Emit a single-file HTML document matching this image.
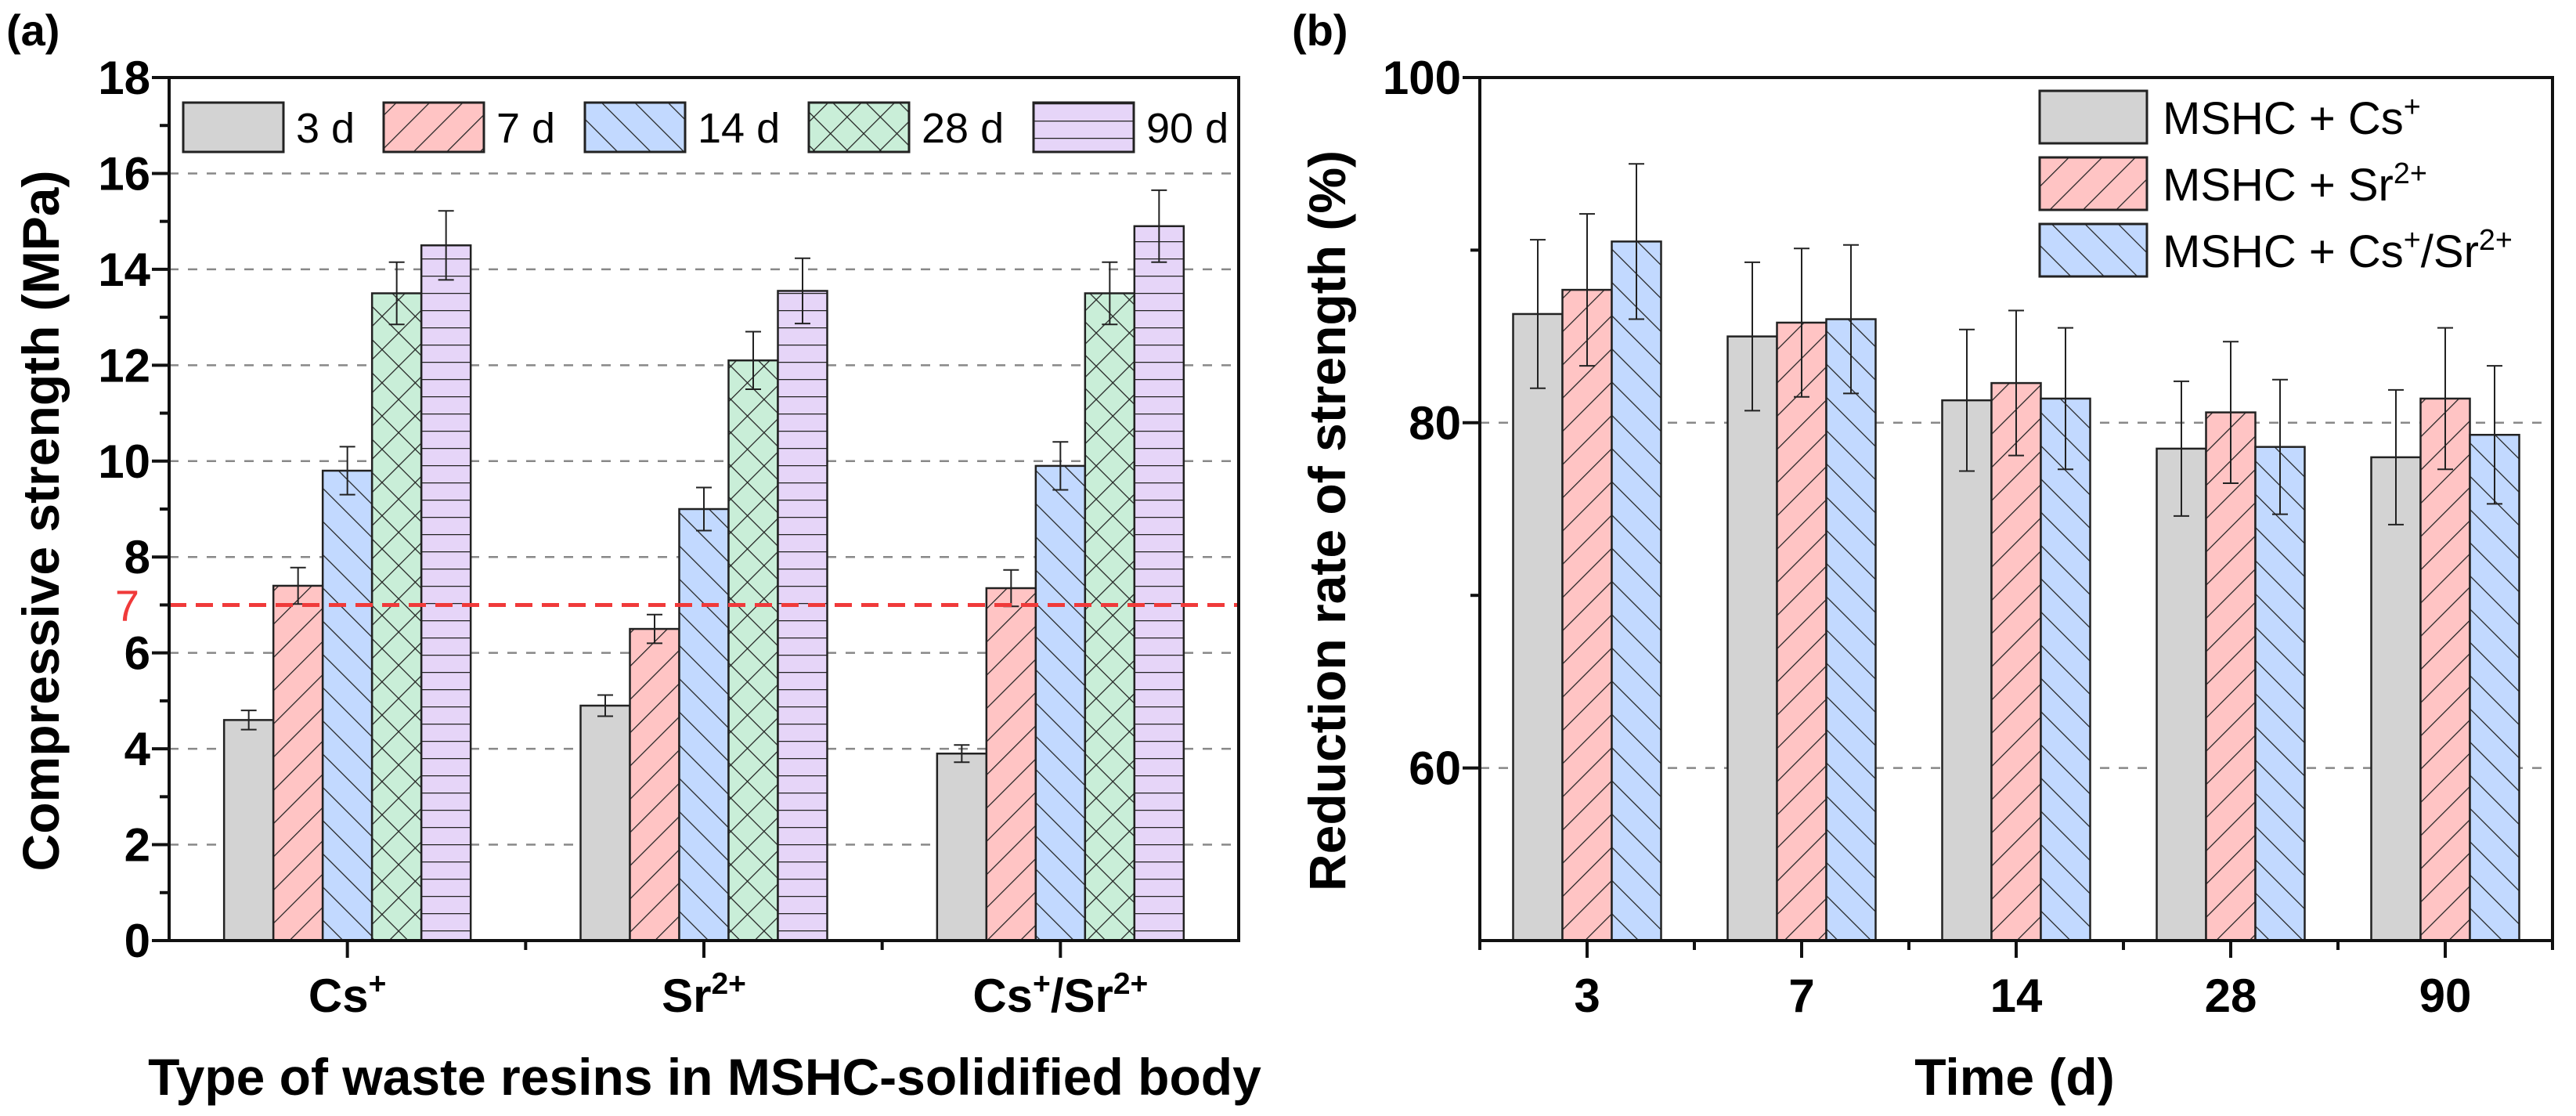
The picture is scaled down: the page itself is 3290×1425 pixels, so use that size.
<!DOCTYPE html>
<html><head><meta charset="utf-8">
<style>
html,body{margin:0;padding:0;background:#fff;}
svg{display:block;font-family:"Liberation Sans",Arial,sans-serif;}
</style></head>
<body>
<svg id="fig" width="3290" height="1425" viewBox="0 0 3290 1425" xmlns="http://www.w3.org/2000/svg">
<defs>
<pattern id="pRed" patternUnits="userSpaceOnUse" width="30" height="30" patternTransform="rotate(45)"><rect width="30" height="30" fill="#ffc4c4"/><line x1="0" y1="0" x2="0" y2="30" stroke="#222" stroke-width="2.5"/></pattern>
<pattern id="pBlue" patternUnits="userSpaceOnUse" width="30" height="30" patternTransform="rotate(-45)"><rect width="30" height="30" fill="#c2d9ff"/><line x1="0" y1="0" x2="0" y2="30" stroke="#222" stroke-width="2.5"/></pattern>
<pattern id="pGreen" patternUnits="userSpaceOnUse" width="30" height="30" patternTransform="rotate(45)"><rect width="30" height="30" fill="#c9eed8"/><line x1="0" y1="0" x2="0" y2="30" stroke="#222" stroke-width="2.5"/><line x1="0" y1="0" x2="30" y2="0" stroke="#222" stroke-width="2.5"/></pattern>
<pattern id="pPurple" patternUnits="userSpaceOnUse" width="30" height="22"><rect width="30" height="22" fill="#e6d5f8"/><line x1="0" y1="0" x2="30" y2="0" stroke="#222" stroke-width="2.5"/></pattern>
</defs>
<g id="ga"></g>
<g id="gb"></g>
</svg>
<script>
// ---- Panel (a) data ----
const catsA = ["Cs^+", "Sr^2+", "Cs^+/Sr^2+"];
const seriesA = ["3 d", "7 d", "14 d", "28 d", "90 d"];
const valsA3 = [4.6, 4.9, 3.9];
const valsA7 = [7.4, 6.5, 7.35];
const valsA14 = [9.8, 9.0, 9.9];
const valsA28 = [13.5, 12.1, 13.5];
const valsA90 = [14.5, 13.55, 14.9];
const errA3 = [0.2, 0.22, 0.18];
const errA7 = [0.38, 0.3, 0.38];
const errA14 = [0.5, 0.45, 0.5];
const errA28 = [0.65, 0.6, 0.65];
const errA90 = [0.72, 0.68, 0.75];
const ticksA = [0, 2, 4, 6, 8, 10, 12, 14, 16, 18];
const limitA = 7;
// ---- Panel (b) data ----
const catsB = ["3", "7", "14", "28", "90"];
const seriesB = ["MSHC + Cs^+", "MSHC + Sr^2+", "MSHC + Cs^+/Sr^2+"];
const valsBCs = [86.3, 85.0, 81.3, 78.5, 78.0];
const valsBSr = [87.7, 85.8, 82.3, 80.6, 81.4];
const valsBCsSr = [90.5, 86.0, 81.4, 78.6, 79.3];
const errBCs = [4.3, 4.3, 4.1, 3.9, 3.9];
const errBSr = [4.4, 4.3, 4.2, 4.1, 4.1];
const errBCsSr = [4.5, 4.3, 4.1, 3.9, 4.0];
const ticksB = [60, 80, 100];

const NS = "http://www.w3.org/2000/svg";
function mk(parent, tag, attrs, text) {
  const e = document.createElementNS(NS, tag);
  for (const k in attrs) e.setAttribute(k, attrs[k]);
  if (text !== undefined) e.textContent = text;
  parent.appendChild(e);
  return e;
}
// text with ^superscript segments (superscript ends at '/' or end)
function supText(parent, attrs, str, fs) {
  const t = mk(parent, "text", attrs);
  const re = /\^([^\/]+)/g;
  let last = 0, m;
  while ((m = re.exec(str)) !== null) {
    if (m.index > last) mk(t, "tspan", {}, str.slice(last, m.index));
    mk(t, "tspan", {dy: -fs * 0.38, "font-size": fs * 0.65}, m[1]);
    mk(t, "tspan", {dy: fs * 0.38, "font-size": fs}, "\u200B");
    last = re.lastIndex;
  }
  if (last < str.length) mk(t, "tspan", {}, str.slice(last));
  return t;
}
const fills = ["#d3d3d3", "url(#pRed)", "url(#pBlue)", "url(#pGreen)", "url(#pPurple)"];

// ================= Panel A =================
const ga = document.getElementById("ga");
const A = {l: 216, r: 1582, t: 99, b: 1201, min: 0, max: 18};
const yA = v => A.b - (v - A.min) / (A.max - A.min) * (A.b - A.t);
const xA = i => A.l + (i + 0.5) / catsA.length * (A.r - A.l);
const bwA = 63;
ticksA.forEach(t => {
  if (t > 0 && t < 18) {
    const g = mk(ga, "line", {x1: A.l, x2: A.r, y1: yA(t), y2: yA(t), stroke: "#888", "stroke-width": 2.5, "stroke-dasharray": "12 12"});
    
    
  }
});
const valsAll = [valsA3, valsA7, valsA14, valsA28, valsA90];
const errAll = [errA3, errA7, errA14, errA28, errA90];
catsA.forEach((c, i) => {
  valsAll.forEach((vals, s) => {
    const x0 = xA(i) - 2.5 * bwA + s * bwA;
    const r = mk(ga, "rect", {x: x0, y: yA(vals[i]), width: bwA, height: yA(0) - yA(vals[i]), fill: fills[s], stroke: "#222", "stroke-width": 2.5});
    
    
    const cx = x0 + bwA / 2, e = errAll[s][i];
    const eb = mk(ga, "path", {d: `M${cx},${yA(vals[i]+e)}V${yA(vals[i]-e)}M${cx-10},${yA(vals[i]+e)}h20M${cx-10},${yA(vals[i]-e)}h20`, stroke: "#222", "stroke-width": 2, fill: "none"});
    
    
  });
});
const lim = mk(ga, "line", {x1: A.l, x2: A.r, y1: yA(limitA), y2: yA(limitA), stroke: "#f03a3a", "stroke-width": 5, "stroke-dasharray": "22 12"});


const limT = mk(ga, "text", {x: 178, y: yA(limitA) + 20, "font-size": 56, fill: "#f03a3a", "text-anchor": "end"}, String(limitA));


const frA = mk(ga, "rect", {x: A.l, y: A.t, width: A.r - A.l, height: A.b - A.t, fill: "none", stroke: "#111", "stroke-width": 4});


ticksA.forEach(t => {
  mk(ga, "line", {x1: A.l - 22, x2: A.l, y1: yA(t), y2: yA(t), stroke: "#111", "stroke-width": 4});
  if (t < 18) mk(ga, "line", {x1: A.l - 12, x2: A.l, y1: yA(t + 1), y2: yA(t + 1), stroke: "#111", "stroke-width": 4});
  const tl = mk(ga, "text", {x: 192, y: yA(t) + 21, "font-size": 60, "font-weight": "bold", "text-anchor": "end"}, String(t));
  
  
});
catsA.forEach((c, i) => {
  mk(ga, "line", {x1: xA(i), x2: xA(i), y1: A.b, y2: A.b + 22, stroke: "#111", "stroke-width": 4});
  if (i < catsA.length - 1) mk(ga, "line", {x1: xA(i + 0.5), x2: xA(i + 0.5), y1: A.b, y2: A.b + 12, stroke: "#111", "stroke-width": 4});
  const tl = supText(ga, {x: xA(i), y: 1292, "font-size": 60, "font-weight": "bold", "text-anchor": "middle"}, c, 60);
  
  
});
const ytA = mk(ga, "text", {x: 0, y: 0, "font-size": 66, "font-weight": "bold", "text-anchor": "middle", transform: "translate(75,665) rotate(-90)"}, "Compressive strength (MPa)");


const xtA = mk(ga, "text", {x: 900, y: 1398, "font-size": 66, "font-weight": "bold", "text-anchor": "middle"}, "Type of waste resins in MSHC-solidified body");


const laA = mk(ga, "text", {x: 8, y: 58, "font-size": 56, "font-weight": "bold"}, "(a)");


const legXA = [234, 490, 747, 1033, 1320];
seriesA.forEach((s, k) => {
  const g = mk(ga, "g", {});
  
  
  mk(g, "rect", {x: legXA[k], y: 131, width: 128, height: 63, fill: fills[k], stroke: "#222", "stroke-width": 3});
  mk(g, "text", {x: legXA[k] + 144, y: 182, "font-size": 54}, s);
});

// ================= Panel B =================
const gb = document.getElementById("gb");
const B = {l: 1890, r: 3260, t: 99, b: 1201, min: 50, max: 100};
const yB = v => B.b - (v - B.min) / (B.max - B.min) * (B.b - B.t);
const xB = i => B.l + (i + 0.5) / catsB.length * (B.r - B.l);
const bwB = 63;
ticksB.forEach(t => {
  if (t < 100) {
    const g = mk(gb, "line", {x1: B.l, x2: B.r, y1: yB(t), y2: yB(t), stroke: "#888", "stroke-width": 2.5, "stroke-dasharray": "12 12"});
    
    
  }
});
const valsB = [valsBCs, valsBSr, valsBCsSr];
const errB = [errBCs, errBSr, errBCsSr];
catsB.forEach((c, i) => {
  valsB.forEach((vals, s) => {
    const x0 = xB(i) - 1.5 * bwB + s * bwB;
    const r = mk(gb, "rect", {x: x0, y: yB(vals[i]), width: bwB, height: yB(B.min) - yB(vals[i]), fill: fills[s], stroke: "#222", "stroke-width": 2.5});
    
    
    const cx = x0 + bwB / 2, e = errB[s][i];
    const eb = mk(gb, "path", {d: `M${cx},${yB(vals[i]+e)}V${yB(vals[i]-e)}M${cx-10},${yB(vals[i]+e)}h20M${cx-10},${yB(vals[i]-e)}h20`, stroke: "#222", "stroke-width": 2, fill: "none"});
    
    
  });
});
const frB = mk(gb, "rect", {x: B.l, y: B.t, width: B.r - B.l, height: B.b - B.t, fill: "none", stroke: "#111", "stroke-width": 4});


ticksB.forEach(t => {
  mk(gb, "line", {x1: B.l - 22, x2: B.l, y1: yB(t), y2: yB(t), stroke: "#111", "stroke-width": 4});
  if (t < 100) mk(gb, "line", {x1: B.l - 12, x2: B.l, y1: yB(t + 10), y2: yB(t + 10), stroke: "#111", "stroke-width": 4});
  const tl = mk(gb, "text", {x: 1866, y: yB(t) + 21, "font-size": 60, "font-weight": "bold", "text-anchor": "end"}, String(t));
  
  
});
catsB.forEach((c, i) => {
  mk(gb, "line", {x1: xB(i), x2: xB(i), y1: B.b, y2: B.b + 22, stroke: "#111", "stroke-width": 4});
  mk(gb, "line", {x1: xB(i - 0.5), x2: xB(i - 0.5), y1: B.b, y2: B.b + 12, stroke: "#111", "stroke-width": 4});
  const tl = mk(gb, "text", {x: xB(i), y: 1292, "font-size": 60, "font-weight": "bold", "text-anchor": "middle"}, c);
  
  
});
mk(gb, "line", {x1: B.r, x2: B.r, y1: B.b, y2: B.b + 12, stroke: "#111", "stroke-width": 4});
const ytB = mk(gb, "text", {x: 0, y: 0, "font-size": 66, "font-weight": "bold", "text-anchor": "middle", transform: "translate(1718,665) rotate(-90)"}, "Reduction rate of strength (%)");


const xtB = mk(gb, "text", {x: 2573, y: 1398, "font-size": 66, "font-weight": "bold", "text-anchor": "middle"}, "Time (d)");


const laB = mk(gb, "text", {x: 1650, y: 58, "font-size": 56, "font-weight": "bold"}, "(b)");


const legYB = [116, 201, 286];
seriesB.forEach((s, k) => {
  const g = mk(gb, "g", {});
  
  
  mk(g, "rect", {x: 2605, y: legYB[k], width: 137, height: 67, fill: fills[k], stroke: "#222", "stroke-width": 3});
  supText(g, {x: 2762, y: legYB[k] + 55, "font-size": 58}, s, 58);
});
</script>
</body></html>
